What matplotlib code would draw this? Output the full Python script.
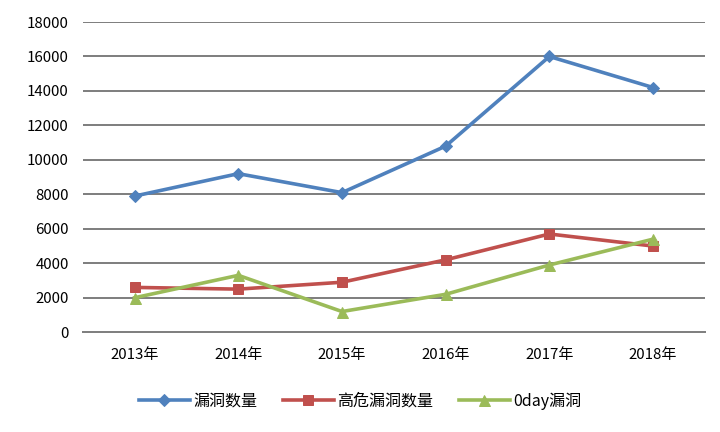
import matplotlib.pyplot as plt

plt.rcParams['font.family'] = ['Noto Sans CJK SC', 'DejaVu Sans']

years = ["2013年", "2014年", "2015年", "2016年", "2017年", "2018年"]
total_vulns = [7900, 9200, 8100, 10800, 16000, 14200]
high_risk = [2600, 2500, 2900, 4200, 5700, 5000]
zero_day = [2000, 3300, 1200, 2200, 3900, 5400]

fig = plt.figure(figsize=(10, 6), dpi=72)
ax = fig.add_axes([0.115, 0.231, 0.864, 0.718])

x = range(len(years))
ax.plot(x, total_vulns, color="#4F81BD", lw=3.6, marker="D", ms=9, label="漏洞数量")
ax.plot(x, high_risk, color="#C0504D", lw=3.6, marker="s", ms=10, label="高危漏洞数量")
ax.plot(x, zero_day, color="#9BBB59", lw=3.6, marker="^", ms=11, label="0day漏洞")

ax.set_xlim(-0.5, 5.5)
ax.set_ylim(0, 18000)
ax.set_yticks(range(0, 18001, 2000))
ax.set_xticks(list(x))
ax.set_xticklabels(years)
ax.grid(axis="y", color="#808080", lw=2)
ax.set_axisbelow(True)
for s in ax.spines.values():
    s.set_visible(False)
ax.spines["bottom"].set_visible(True)
ax.spines["bottom"].set_color("#808080")
ax.spines["bottom"].set_linewidth(2)
ax.tick_params(axis="both", length=0, labelsize=15, pad=16)
ax.tick_params(axis="y", pad=14)

fig.legend(loc="center", bbox_to_anchor=(0.5, 0.072), ncol=3, frameon=False,
           fontsize=16, handlelength=3.2, columnspacing=1.6, handletextpad=0.2)

fig.savefig("out.png", dpi=72)
